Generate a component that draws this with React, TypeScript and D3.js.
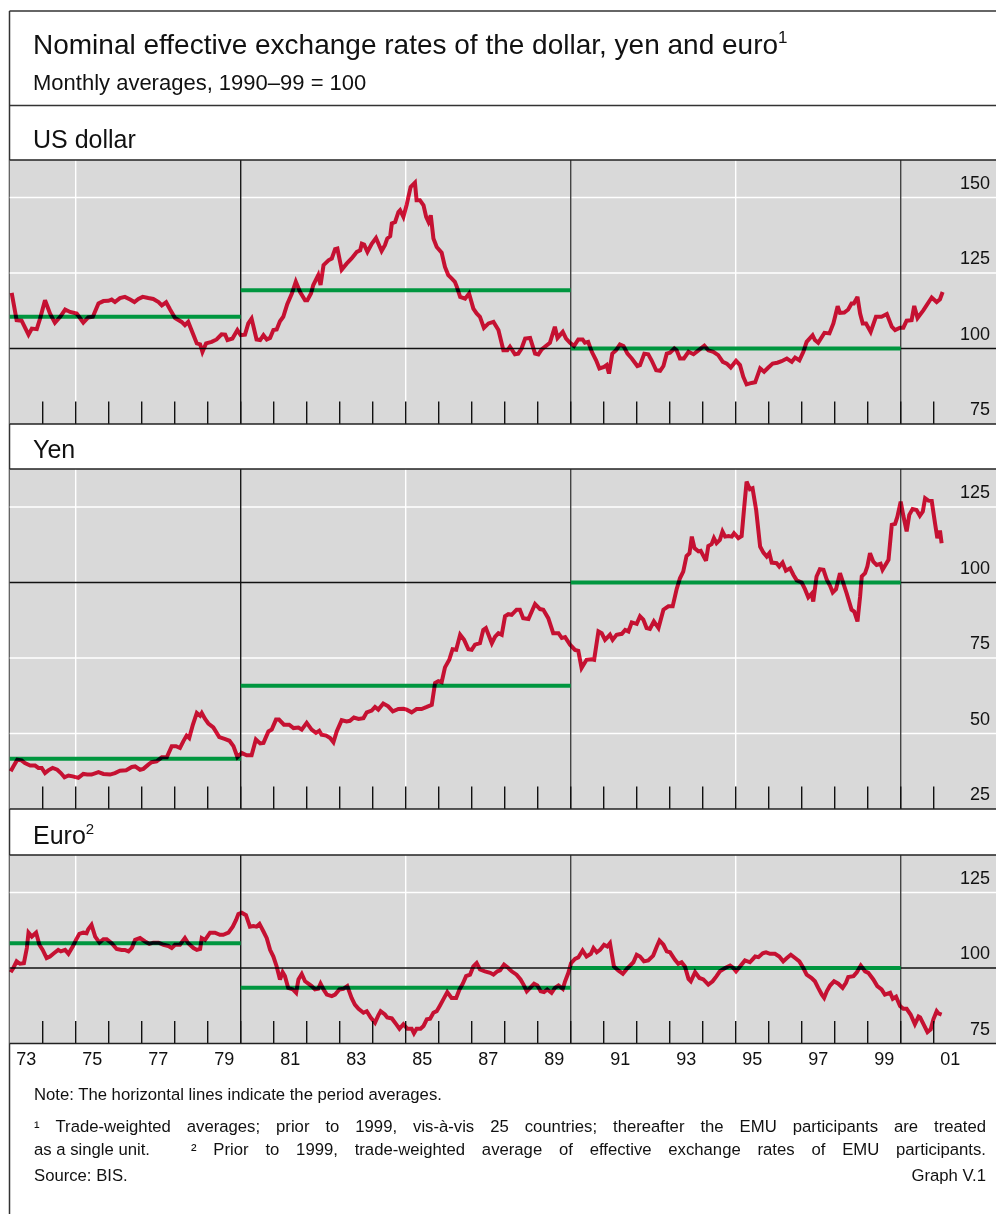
import React from "react";
import * as d3 from "d3";

// ---------- text ----------
const TITLE = "Nominal effective exchange rates of the dollar, yen and euro";
const TITLE_NOTE = "1";
const SUBTITLE = "Monthly averages, 1990–99 = 100";
const PANEL_NAMES = ["US dollar", "Yen", "Euro"];
const PANEL_NOTES = ["", "", "2"];
const NOTE_LINE = "Note: The horizontal lines indicate the period averages.";
const FOOT_1 = "¹ Trade-weighted averages; prior to 1999, vis-à-vis 25 countries; thereafter the EMU participants are treated";
const FOOT_2A = "as a single unit.";
const FOOT_2B = "² Prior to 1999, trade-weighted average of effective exchange rates of EMU participants.";
const SOURCE = "Source: BIS.";
const GRAPH_ID = "Graph V.1";

// ---------- x axis ----------
const yearLabelYears = [1973, 1975, 1977, 1979, 1981, 1983, 1985, 1987, 1989, 1991, 1993, 1995, 1997, 1999, 2001];
const yearLabels = ["73", "75", "77", "79", "81", "83", "85", "87", "89", "91", "93", "95", "97", "99", "01"];
const tickYears = [1974, 1975, 1976, 1977, 1978, 1979, 1980, 1981, 1982, 1983, 1984, 1985, 1986, 1987, 1988, 1989, 1990, 1991, 1992, 1993, 1994, 1995, 1996, 1997, 1998, 1999, 2000, 2001];
const whiteGridYears = [1975, 1985, 1995];
const periodBreakYears = [1980, 1990, 2000];
const periodStarts = [1973, 1980, 1990];
const periodEnds = [1980, 1990, 2000];

// ---------- y axes ----------
const usdTicks = [75, 100, 125, 150];
const yenTicks = [25, 50, 75, 100, 125];
const euroTicks = [75, 100, 125];

// ---------- period averages ----------
const usdAverages = [110.5, 119.3, 100];
const yenAverages = [41.6, 65.8, 100];
const euroAverages = [108.2, 93.5, 100];

// ---------- series: [decimal year, index] ----------
const usdSeries: [number, number][] = [
  [1973.06,118.4],[1973.21,109.4],[1973.36,109.2],[1973.57,104.6],[1973.67,106.6],[1973.82,106.4],[1973.92,109.9],[1974.07,116.0],[1974.22,111.6],[1974.37,108.5],[1974.53,110.5],[1974.68,112.9],[1974.83,112.1],[1975.03,111.6],[1975.23,108.6],[1975.38,110.3],[1975.52,110.5],[1975.69,114.9],[1975.84,115.7],[1975.99,115.8],[1976.09,116.2],[1976.19,115.4],[1976.34,116.7],[1976.49,117.1],[1976.65,116.2],[1976.78,115.4],[1976.90,116.4],[1977.03,117.1],[1977.20,116.7],[1977.35,116.4],[1977.51,115.4],[1977.61,114.3],[1977.74,115.3],[1977.86,112.9],[1978.01,110.1],[1978.21,108.8],[1978.31,107.7],[1978.41,108.8],[1978.55,105.0],[1978.67,101.7],[1978.77,101.4],[1978.84,98.9],[1978.95,101.7],[1979.12,102.2],[1979.27,103.0],[1979.42,104.7],[1979.53,104.6],[1979.60,102.8],[1979.75,103.3],[1979.90,106.1],[1980.00,104.4],[1980.13,104.6],[1980.23,108.3],[1980.33,109.9],[1980.48,103.0],[1980.59,102.8],[1980.69,104.4],[1980.79,103.0],[1980.89,103.5],[1980.99,106.1],[1981.09,106.3],[1981.19,109.0],[1981.29,110.5],[1981.41,114.7],[1981.55,118.2],[1981.67,122.1],[1981.80,118.7],[1981.95,116.0],[1982.02,116.0],[1982.13,118.2],[1982.20,121.0],[1982.35,124.3],[1982.42,121.0],[1982.51,127.6],[1982.66,129.2],[1982.76,129.8],[1982.86,132.9],[1982.93,133.1],[1983.06,126.1],[1983.21,128.1],[1983.36,129.8],[1983.52,132.0],[1983.62,132.5],[1983.67,134.7],[1983.74,134.4],[1983.84,132.0],[1983.97,134.7],[1984.10,136.6],[1984.27,132.3],[1984.37,134.2],[1984.44,136.4],[1984.53,137.2],[1984.58,141.4],[1984.68,141.9],[1984.78,145.2],[1984.83,145.8],[1984.93,143.6],[1985.03,147.6],[1985.15,153.5],[1985.28,154.9],[1985.33,149.1],[1985.43,149.1],[1985.54,147.4],[1985.62,143.6],[1985.69,141.9],[1985.76,144.1],[1985.84,136.4],[1985.94,133.6],[1986.09,131.7],[1986.19,127.0],[1986.29,124.3],[1986.39,123.2],[1986.49,122.1],[1986.55,120.4],[1986.65,117.1],[1986.80,116.5],[1986.92,118.2],[1987.05,113.2],[1987.15,111.6],[1987.25,110.5],[1987.37,106.8],[1987.51,108.3],[1987.66,108.8],[1987.81,106.1],[1987.96,99.4],[1988.08,99.4],[1988.16,100.6],[1988.31,98.1],[1988.41,98.3],[1988.51,100.0],[1988.62,103.3],[1988.77,103.5],[1988.92,98.3],[1989.02,98.0],[1989.12,99.7],[1989.22,100.6],[1989.37,101.9],[1989.52,107.2],[1989.60,103.5],[1989.76,105.5],[1989.86,103.3],[1989.98,101.9],[1990.10,100.8],[1990.23,103.0],[1990.36,103.0],[1990.43,101.9],[1990.53,102.2],[1990.64,98.9],[1990.77,96.1],[1990.87,93.4],[1991.01,93.9],[1991.09,94.5],[1991.16,91.7],[1991.26,98.3],[1991.37,99.4],[1991.49,101.3],[1991.60,100.8],[1991.72,98.3],[1991.85,96.7],[1992.02,94.2],[1992.10,94.5],[1992.23,98.3],[1992.35,98.1],[1992.45,96.1],[1992.59,92.8],[1992.71,92.6],[1992.81,94.2],[1992.91,98.3],[1993.01,98.6],[1993.14,100.0],[1993.21,99.4],[1993.31,96.7],[1993.43,96.7],[1993.57,98.9],[1993.72,98.1],[1993.87,99.4],[1994.05,100.9],[1994.17,99.4],[1994.32,98.9],[1994.47,97.8],[1994.61,95.6],[1994.73,95.0],[1994.85,93.7],[1995.01,95.9],[1995.13,94.5],[1995.23,90.6],[1995.33,88.1],[1995.48,88.6],[1995.59,88.8],[1995.74,93.4],[1995.86,92.3],[1995.99,93.7],[1996.12,95.0],[1996.26,95.3],[1996.39,95.8],[1996.55,96.7],[1996.70,95.6],[1996.80,97.0],[1996.93,96.1],[1997.05,98.9],[1997.15,102.2],[1997.33,104.4],[1997.40,102.8],[1997.50,101.9],[1997.69,105.2],[1997.84,105.0],[1997.96,108.3],[1998.09,114.0],[1998.16,111.8],[1998.29,111.9],[1998.41,112.9],[1998.51,114.9],[1998.58,114.9],[1998.69,117.1],[1998.77,111.6],[1998.85,108.3],[1998.95,108.3],[1999.09,105.5],[1999.25,110.5],[1999.42,110.5],[1999.58,111.4],[1999.73,107.2],[1999.83,106.1],[1999.98,106.9],[2000.08,106.9],[2000.18,109.2],[2000.33,109.4],[2000.41,114.1],[2000.51,110.1],[2000.69,112.7],[2000.94,116.9],[2001.09,115.4],[2001.19,116.3],[2001.27,118.7]
];

const yenSeries: [number, number][] = [
  [1973.03,37.5],[1973.11,39.1],[1973.23,41.3],[1973.36,41.1],[1973.46,40.2],[1973.62,39.4],[1973.77,39.4],[1973.87,38.6],[1973.97,38.6],[1974.07,36.9],[1974.17,37.8],[1974.30,38.6],[1974.44,38.0],[1974.55,36.9],[1974.66,35.5],[1974.78,36.1],[1974.91,35.8],[1975.08,35.3],[1975.23,36.6],[1975.35,36.4],[1975.48,36.4],[1975.69,37.2],[1975.84,36.6],[1976.04,36.4],[1976.19,36.9],[1976.34,37.7],[1976.53,37.8],[1976.70,38.9],[1976.80,39.1],[1976.95,38.0],[1977.05,38.3],[1977.20,39.7],[1977.30,40.5],[1977.45,40.8],[1977.61,42.1],[1977.76,42.1],[1977.91,45.8],[1978.04,45.8],[1978.16,45.2],[1978.26,47.4],[1978.36,49.3],[1978.44,48.5],[1978.55,52.9],[1978.67,56.8],[1978.77,55.9],[1978.82,56.8],[1978.92,54.8],[1979.02,53.3],[1979.17,52.0],[1979.35,48.8],[1979.51,48.2],[1979.66,47.6],[1979.78,45.8],[1979.90,42.2],[1980.03,43.6],[1980.18,42.8],[1980.33,42.8],[1980.46,48.0],[1980.59,46.7],[1980.69,46.9],[1980.84,50.7],[1980.94,51.3],[1981.07,54.6],[1981.16,54.6],[1981.31,52.9],[1981.47,52.9],[1981.60,51.8],[1981.75,52.0],[1981.85,51.3],[1982.00,53.5],[1982.15,51.3],[1982.28,50.2],[1982.38,50.9],[1982.45,49.6],[1982.59,49.3],[1982.71,48.5],[1982.81,47.1],[1982.91,50.7],[1983.06,54.4],[1983.21,54.0],[1983.31,54.2],[1983.43,55.3],[1983.57,54.8],[1983.72,55.1],[1983.82,57.0],[1983.97,57.6],[1984.07,58.8],[1984.17,57.9],[1984.32,59.9],[1984.47,59.0],[1984.61,57.3],[1984.78,58.1],[1984.93,58.2],[1985.03,57.9],[1985.18,57.0],[1985.33,58.1],[1985.48,58.1],[1985.64,58.8],[1985.79,59.5],[1985.89,66.7],[1985.99,67.3],[1986.09,67.0],[1986.19,71.9],[1986.32,74.4],[1986.42,77.9],[1986.53,77.7],[1986.65,82.7],[1986.77,81.0],[1986.90,77.9],[1987.00,77.7],[1987.10,79.4],[1987.25,79.9],[1987.35,84.3],[1987.43,84.9],[1987.61,79.9],[1987.71,82.1],[1987.81,83.2],[1987.91,82.7],[1988.01,88.8],[1988.11,89.5],[1988.21,89.3],[1988.36,91.0],[1988.46,91.0],[1988.56,88.2],[1988.72,87.9],[1988.92,92.9],[1989.07,91.2],[1989.17,91.0],[1989.32,88.2],[1989.47,83.2],[1989.63,83.2],[1989.73,81.6],[1989.83,81.9],[1989.98,79.4],[1990.13,77.7],[1990.23,77.4],[1990.33,71.7],[1990.48,74.4],[1990.64,74.6],[1990.71,74.4],[1990.84,83.8],[1990.94,83.2],[1991.04,81.0],[1991.19,82.7],[1991.27,81.0],[1991.39,82.7],[1991.55,83.0],[1991.65,84.3],[1991.75,83.8],[1991.85,86.8],[1992.00,86.3],[1992.10,88.8],[1992.20,87.7],[1992.30,84.9],[1992.40,84.6],[1992.52,87.1],[1992.66,84.9],[1992.81,91.0],[1992.96,92.1],[1993.09,92.1],[1993.21,97.8],[1993.31,101.4],[1993.41,103.6],[1993.51,108.8],[1993.60,109.7],[1993.67,115.2],[1993.75,111.4],[1993.87,110.3],[1993.94,110.5],[1994.02,108.8],[1994.10,107.2],[1994.17,112.1],[1994.27,112.7],[1994.34,114.7],[1994.42,113.0],[1994.52,114.1],[1994.60,116.9],[1994.68,115.2],[1994.78,115.4],[1994.88,115.2],[1994.95,116.3],[1995.08,114.7],[1995.18,115.4],[1995.25,124.0],[1995.33,133.4],[1995.43,130.9],[1995.51,131.2],[1995.62,124.0],[1995.74,111.9],[1995.84,109.9],[1995.94,108.6],[1996.02,109.7],[1996.09,106.6],[1996.24,106.4],[1996.32,105.3],[1996.42,106.6],[1996.52,103.9],[1996.65,104.7],[1996.75,102.5],[1996.85,100.7],[1997.00,100.0],[1997.10,97.8],[1997.20,95.1],[1997.30,96.3],[1997.35,93.7],[1997.45,102.0],[1997.55,104.4],[1997.66,104.2],[1997.76,100.9],[1997.86,98.9],[1997.94,96.7],[1998.04,97.8],[1998.16,103.1],[1998.26,99.8],[1998.36,96.5],[1998.51,91.0],[1998.59,90.4],[1998.69,87.1],[1998.77,95.4],[1998.82,102.0],[1998.92,103.1],[1998.99,105.3],[1999.07,109.7],[1999.17,106.9],[1999.27,105.8],[1999.39,106.2],[1999.45,104.2],[1999.63,107.5],[1999.73,119.1],[1999.83,119.4],[1999.90,121.8],[2000.00,126.8],[2000.08,122.1],[2000.18,116.9],[2000.26,122.4],[2000.36,124.3],[2000.48,124.0],[2000.58,122.1],[2000.67,123.5],[2000.74,127.9],[2000.84,127.1],[2000.94,127.0],[2001.04,119.6],[2001.11,114.7],[2001.19,117.2],[2001.24,113.0]
];

const euroSeries: [number, number][] = [
  [1973.03,98.6],[1973.11,100.0],[1973.21,102.2],[1973.31,101.4],[1973.43,101.6],[1973.52,106.6],[1973.57,111.7],[1973.67,110.4],[1973.80,111.7],[1973.90,107.7],[1974.00,106.0],[1974.12,103.3],[1974.22,103.8],[1974.34,104.9],[1974.47,106.0],[1974.55,105.5],[1974.68,106.0],[1974.78,104.7],[1974.91,107.1],[1975.01,109.3],[1975.11,111.3],[1975.23,111.7],[1975.33,111.5],[1975.38,112.8],[1975.48,114.3],[1975.59,110.4],[1975.72,108.4],[1975.84,109.5],[1975.94,109.5],[1976.09,108.2],[1976.24,106.3],[1976.39,106.0],[1976.49,106.0],[1976.60,105.5],[1976.70,106.6],[1976.80,109.3],[1976.95,109.9],[1977.10,108.8],[1977.23,108.0],[1977.35,108.4],[1977.51,108.4],[1977.66,107.7],[1977.81,107.3],[1977.91,106.6],[1978.01,107.7],[1978.16,107.7],[1978.31,109.9],[1978.41,108.2],[1978.57,106.6],[1978.67,106.0],[1978.77,106.3],[1978.82,109.9],[1978.92,109.3],[1979.07,111.7],[1979.22,111.7],[1979.37,111.0],[1979.47,111.0],[1979.63,111.7],[1979.76,113.7],[1979.86,115.9],[1979.93,117.9],[1980.03,118.3],[1980.16,117.5],[1980.28,113.7],[1980.38,113.9],[1980.48,113.7],[1980.57,114.6],[1980.69,112.1],[1980.79,109.9],[1980.89,106.0],[1980.99,103.8],[1981.09,100.5],[1981.19,96.2],[1981.27,98.6],[1981.34,97.3],[1981.44,93.4],[1981.58,92.9],[1981.68,91.8],[1981.75,96.2],[1981.85,98.0],[1981.95,95.6],[1982.05,94.8],[1982.15,94.0],[1982.25,92.9],[1982.35,93.1],[1982.42,94.8],[1982.51,92.9],[1982.61,91.2],[1982.76,90.7],[1982.86,91.2],[1982.99,92.9],[1983.11,93.1],[1983.23,94.0],[1983.36,90.1],[1983.46,87.9],[1983.57,86.5],[1983.72,85.2],[1983.82,85.7],[1983.94,83.6],[1984.07,81.9],[1984.17,84.3],[1984.24,85.7],[1984.37,84.6],[1984.44,83.6],[1984.58,83.3],[1984.71,81.4],[1984.81,79.9],[1984.93,81.4],[1985.05,79.9],[1985.18,79.9],[1985.25,78.4],[1985.33,79.9],[1985.45,79.9],[1985.54,80.8],[1985.64,83.0],[1985.74,83.2],[1985.84,85.2],[1985.94,85.7],[1986.04,87.6],[1986.14,89.6],[1986.26,92.0],[1986.39,90.1],[1986.53,90.1],[1986.63,92.9],[1986.73,94.8],[1986.83,97.3],[1986.95,97.8],[1987.05,100.5],[1987.15,101.6],[1987.25,99.5],[1987.40,98.9],[1987.56,98.4],[1987.66,97.8],[1987.78,98.9],[1987.86,99.2],[1987.98,101.1],[1988.11,100.0],[1988.21,98.9],[1988.36,97.8],[1988.48,96.2],[1988.57,94.5],[1988.67,92.3],[1988.77,93.4],[1988.89,94.8],[1988.99,94.2],[1989.09,92.3],[1989.19,92.0],[1989.29,92.9],[1989.42,91.8],[1989.52,93.4],[1989.63,94.2],[1989.76,93.1],[1989.83,95.6],[1989.93,98.4],[1990.01,101.6],[1990.13,103.0],[1990.23,103.5],[1990.36,105.8],[1990.48,103.8],[1990.61,104.7],[1990.69,106.6],[1990.79,105.2],[1990.89,106.0],[1991.01,107.7],[1991.11,107.1],[1991.19,108.2],[1991.31,100.5],[1991.44,99.2],[1991.58,98.1],[1991.70,99.7],[1991.80,100.8],[1991.90,101.9],[1992.00,104.4],[1992.10,103.8],[1992.22,102.2],[1992.35,102.5],[1992.50,104.1],[1992.61,107.1],[1992.69,109.1],[1992.81,107.7],[1992.91,105.5],[1993.01,105.2],[1993.16,102.7],[1993.26,101.4],[1993.36,101.9],[1993.46,100.5],[1993.57,96.4],[1993.64,95.6],[1993.77,98.6],[1993.90,96.7],[1994.02,96.2],[1994.17,94.5],[1994.30,95.6],[1994.42,97.3],[1994.52,98.9],[1994.68,100.0],[1994.83,100.8],[1994.93,100.0],[1995.01,98.9],[1995.13,100.5],[1995.28,102.5],[1995.43,101.9],[1995.59,103.8],[1995.69,103.6],[1995.82,104.9],[1995.92,105.2],[1996.04,104.7],[1996.19,104.7],[1996.32,103.8],[1996.44,102.2],[1996.55,103.3],[1996.67,104.4],[1996.80,103.3],[1996.93,102.2],[1997.05,100.0],[1997.15,97.8],[1997.30,96.7],[1997.40,95.6],[1997.50,93.4],[1997.61,91.2],[1997.68,90.1],[1997.76,92.3],[1997.86,94.2],[1997.98,95.6],[1998.11,94.8],[1998.24,93.4],[1998.34,95.1],[1998.41,97.0],[1998.57,97.3],[1998.67,98.6],[1998.79,100.8],[1998.92,98.9],[1999.02,98.4],[1999.17,96.2],[1999.29,94.0],[1999.42,92.9],[1999.52,91.2],[1999.68,91.8],[1999.76,89.8],[1999.86,90.5],[1999.98,87.4],[2000.08,86.5],[2000.18,86.5],[2000.30,84.6],[2000.43,81.4],[2000.54,83.9],[2000.59,83.6],[2000.69,81.4],[2000.81,78.8],[2000.91,79.7],[2000.99,83.0],[2001.09,85.7],[2001.14,85.0],[2001.24,84.6]
];

const FONT = "'Liberation Sans', Arial, Helvetica, sans-serif";
const GREY = "#d9d9d9";
const RED = "#e8143a";
const GREEN = "#00963f";
const DARK = "#222";
const FOOT_SIZE = 16.7;

let measureCtx: CanvasRenderingContext2D | null = null;
function textWidth(s: string, size: number): number {
  if (typeof document === "undefined") return s.length * size * 0.5;
  if (!measureCtx) measureCtx = document.createElement("canvas").getContext("2d");
  if (!measureCtx) return s.length * size * 0.5;
  measureCtx.font = `${size}px "Liberation Sans", Arial, sans-serif`;
  return measureCtx.measureText(s).width;
}

// justified line: each word placed so the line fills [x0, x1]
function Justified({ text, x0, x1, y, size }: { text: string; x0: number; x1: number; y: number; size: number }) {
  const words = text.split(" ");
  const widths = words.map((w) => textWidth(w, size));
  const total = d3.sum(widths);
  const gap = words.length > 1 ? (x1 - x0 - total) / (words.length - 1) : 0;
  let cx = x0;
  const xs = words.map((_, i) => {
    const v = cx;
    cx += widths[i] + gap;
    return v;
  });
  return (
    <text y={y} fontSize={size} fontFamily={FONT} fill="#111">
      {words.map((w, i) => (
        <tspan key={i} x={xs[i]}>
          {w}
        </tspan>
      ))}
    </text>
  );
}

export default function App() {
  const W = 996;
  const H = 1214;
  const xLeft = 9.7;
  const pxPerYear = 33;
  const x = d3.scaleLinear().domain([1973, 2003]).range([xLeft, xLeft + 30 * pxPerYear]);
  const K = 3.02; // px per index point

  const layout = [
    { top: 160, bottom: 424, min: 75, labelY: 148 },
    { top: 469, bottom: 809, min: 25, labelY: 458 },
    { top: 855, bottom: 1043.5, min: 75, labelY: 844 },
  ];
  const panelData = [
    { series: usdSeries, avgs: usdAverages, ticks: usdTicks },
    { series: yenSeries, avgs: yenAverages, ticks: yenTicks },
    { series: euroSeries, avgs: euroAverages, ticks: euroTicks },
  ];

  const panels = layout.map((L, i) => {
    const D = panelData[i];
    const y = d3
      .scaleLinear()
      .domain([L.min, L.min + (L.bottom - L.top) / K])
      .range([L.bottom, L.top]);
    const line = d3
      .line<[number, number]>()
      .x((d) => x(d[0]))
      .y((d) => y(d[1]));
    return (
      <g key={i}>
        <rect x={xLeft} y={L.top} width={W - xLeft} height={L.bottom - L.top} fill={GREY} />
        {D.ticks
          .filter((t) => t !== 100 && t !== L.min)
          .map((t) => (
            <line key={"h" + t} x1={xLeft} x2={W} y1={y(t)} y2={y(t)} stroke="#fff" strokeWidth={1.4} />
          ))}
        {whiteGridYears.map((yr) => (
          <line key={"w" + yr} x1={x(yr)} x2={x(yr)} y1={L.top} y2={L.bottom} stroke="#fff" strokeWidth={1.4} />
        ))}
        {periodBreakYears.map((yr, j) => (
          <line
            key={"p" + yr}
            x1={x(yr)}
            x2={x(yr)}
            y1={L.top}
            y2={L.bottom}
            stroke={j === 0 ? "#1a1a1a" : "#444"}
            strokeWidth={1.4}
          />
        ))}
        <line x1={xLeft} x2={W} y1={y(100)} y2={y(100)} stroke="#111" strokeWidth={1.4} />
        {tickYears.map((yr) => (
          <line key={"t" + yr} x1={x(yr)} x2={x(yr)} y1={L.bottom - 22.5} y2={L.bottom} stroke="#111" strokeWidth={1.4} />
        ))}
        {D.avgs.map((a, j) => (
          <line
            key={"a" + j}
            x1={x(periodStarts[j])}
            x2={x(periodEnds[j])}
            y1={y(a)}
            y2={y(a)}
            stroke={GREEN}
            strokeWidth={4}
          />
        ))}
        <path
          d={line(D.series) || ""}
          fill="none"
          stroke={RED}
          strokeWidth={4}
          strokeLinejoin="miter"
          strokeMiterlimit={3}
          style={{ mixBlendMode: "multiply" }}
        />
        {D.ticks.map((t) => (
          <text
            key={"l" + t}
            x={990}
            y={y(t) - 9}
            textAnchor="end"
            fontSize={18}
            fontFamily={FONT}
            fill="#111"
          >
            {t}
          </text>
        ))}
        <line x1={xLeft} x2={W} y1={L.top} y2={L.top} stroke={DARK} strokeWidth={1.5} />
        <line x1={xLeft} x2={W} y1={L.bottom} y2={L.bottom} stroke={DARK} strokeWidth={1.5} />
        <text x={33} y={L.labelY} fontSize={25} fontFamily={FONT} fill="#111">
          {PANEL_NAMES[i]}
          {PANEL_NOTES[i] ? (
            <tspan fontSize={15} dy={-10}>
              {PANEL_NOTES[i]}
            </tspan>
          ) : null}
        </text>
      </g>
    );
  });

  return (
    <svg
      width={W}
      height={H}
      viewBox={`0 0 ${W} ${H}`}
      style={{ position: "absolute", left: 0, top: 0, background: "#fff" }}
    >
      <rect x={0} y={0} width={W} height={H} fill="#fff" />
      {/* outer frame */}
      <line x1={9.5} x2={9.5} y1={11} y2={H} stroke="#333" strokeWidth={1.5} />
      <line x1={9.5} x2={W} y1={11} y2={11} stroke="#333" strokeWidth={1.5} />
      <line x1={9.5} x2={W} y1={105.5} y2={105.5} stroke="#333" strokeWidth={1.5} />

      <text x={33} y={54} fontSize={28} fontFamily={FONT} fill="#111">
        {TITLE}
        <tspan fontSize={17} dy={-11}>
          {TITLE_NOTE}
        </tspan>
      </text>
      <text x={33} y={90} fontSize={22} fontFamily={FONT} fill="#111">
        {SUBTITLE}
      </text>

      {panels}

      {yearLabelYears.map((yr, i) => (
        <text
          key={"yl" + yr}
          x={x(yr + 0.5)}
          y={1065}
          textAnchor="middle"
          fontSize={18}
          fontFamily={FONT}
          fill="#111"
        >
          {yearLabels[i]}
        </text>
      ))}

      <text x={34} y={1100} fontSize={FOOT_SIZE} fontFamily={FONT} fill="#111">
        {NOTE_LINE}
      </text>
      <Justified text={FOOT_1} x0={34} x1={986} y={1132} size={FOOT_SIZE} />
      <text x={34} y={1155} fontSize={FOOT_SIZE} fontFamily={FONT} fill="#111">
        {FOOT_2A}
      </text>
      <Justified text={FOOT_2B} x0={191} x1={986} y={1155} size={FOOT_SIZE} />
      <text x={34} y={1181} fontSize={FOOT_SIZE} fontFamily={FONT} fill="#111">
        {SOURCE}
      </text>
      <text x={986} y={1181} textAnchor="end" fontSize={FOOT_SIZE} fontFamily={FONT} fill="#111">
        {GRAPH_ID}
      </text>
    </svg>
  );
}
